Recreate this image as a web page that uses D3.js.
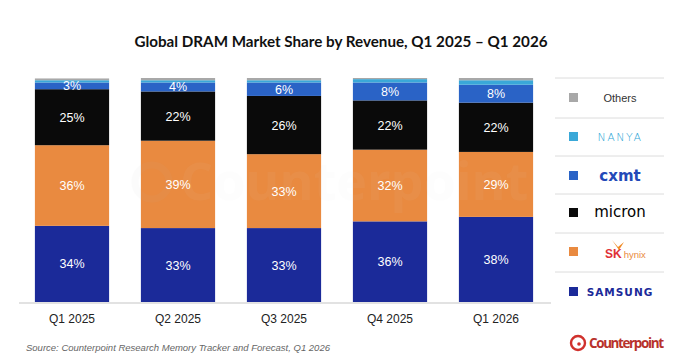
<!DOCTYPE html>
<html>
<head>
<meta charset="utf-8">
<script src="https://cdn.jsdelivr.net/npm/d3@7"></script>
<style>
  html, body { margin: 0; padding: 0; background: #fff; }
  svg { display: block; }
</style>
</head>
<body>
<svg id="chart" width="680" height="361"></svg>
<script>
// Quarters on the x axis
const quarters = ['Q1 2025', 'Q2 2025', 'Q3 2025', 'Q4 2025', 'Q1 2026'];

// Revenue share (%) per vendor, bottom to top of the stack
const samsung = [34, 33, 33, 36, 38];
const skHynix = [36, 39, 33, 32, 29];
const micron  = [25, 22, 26, 22, 22];
const cxmt    = [3, 4, 6, 8, 8];
const nanya   = [1, 1, 1, 1.5, 2];
const others  = [0.8, 1, 1, 0.5, 1];

// Which series get a value label inside the bar
const labelled = ['samsung', 'skHynix', 'micron', 'cxmt'];

const series = [
    { key: 'samsung', values: samsung, color: '#1b2a99' },
    { key: 'skHynix', values: skHynix, color: '#e98a40' },
    { key: 'micron',  values: micron,  color: '#0a0a0a' },
    { key: 'cxmt',    values: cxmt,    color: '#2a63c6' },
    { key: 'nanya',   values: nanya,   color: '#3aa8d8' },
    { key: 'others',  values: others,  color: '#a8a8a8' }
];

const svg = d3.select('#chart');

// ── Title ───────────────────────────────────────────
svg.append('text')
    .attr('x', 341).attr('y', 47)
    .attr('text-anchor', 'middle')
    .style('font-family', 'Lato, "Open Sans", sans-serif')
    .style('font-weight', 700)
    .style('font-size', '15.2px')
    .attr('fill', '#111')
    .text('Global DRAM Market Share by Revenue, Q1 2025 \u2013 Q1 2026');

// ── Scales ─────────────────────────────────────────
const x = d3.scaleBand()
    .domain(quarters)
    .range([19, 549])
    .paddingInner(0.3)
    .paddingOuter(0.15);

const y = d3.scaleLinear()
    .domain([0, 100])
    .range([302, 78]);

// Stack the series
const rows = quarters.map((q, i) => {
    const r = { quarter: q };
    series.forEach(s => { r[s.key] = s.values[i]; });
    return r;
});
const stacked = d3.stack().keys(series.map(s => s.key))(rows);
const colorOf = Object.fromEntries(series.map(s => [s.key, s.color]));

// Axis baseline
svg.append('line')
    .attr('x1', 19).attr('x2', 551)
    .attr('y1', 303).attr('y2', 303)
    .attr('stroke', '#d9d9d9').attr('stroke-width', 1.5);

const layers = svg.append('g').selectAll('g')
    .data(stacked)
    .join('g')
    .attr('fill', d => colorOf[d.key]);

layers.selectAll('rect')
    .data(d => d)
    .join('rect')
    .attr('x', d => x(d.data.quarter))
    .attr('width', x.bandwidth())
    .attr('y', d => y(d[1]))
    .attr('height', d => y(d[0]) - y(d[1]));

// Faint watermark drawn over the bars, as in the source image
const wm = svg.append('g').attr('opacity', 0.05).attr('pointer-events', 'none');
wm.append('circle')
    .attr('cx', 152).attr('cy', 182).attr('r', 17)
    .attr('fill', 'none').attr('stroke', '#bbb').attr('stroke-width', 7);
wm.append('text')
    .attr('x', 180).attr('y', 200)
    .style('font-family', '"Open Sans", sans-serif')
    .style('font-weight', 700)
    .style('font-size', '52px')
    .attr('fill', '#ddd')
    .text('Counterpoint');

svg.append('g').selectAll('g')
    .data(stacked.filter(s => labelled.includes(s.key)))
    .join('g')
    .selectAll('text')
    .data(d => d.map(v => ({ v, key: d.key })))
    .join('text')
    .attr('x', d => x(d.v.data.quarter) + x.bandwidth() / 2)
    .attr('y', d => (y(d.v[0]) + y(d.v[1])) / 2 + 4.5)
    .attr('text-anchor', 'middle')
    .style('font-family', '"Liberation Sans", Arial, sans-serif')
    .style('font-size', '12.5px')
    .attr('fill', '#fff')
    .text(d => `${d.v.data[d.key]}%`);

// X axis labels
const xAxis = svg.append('g')
    .attr('transform', 'translate(0,303)')
    .call(d3.axisBottom(x).tickSize(0).tickPadding(11));
xAxis.select('.domain').remove();
xAxis.selectAll('text')
    .style('font-family', '"Liberation Sans", Arial, sans-serif')
    .style('font-size', '12px')
    .attr('fill', '#222');

// ── Legend (top to bottom) ───────────────────────────
const legendKeys = ['others', 'nanya', 'cxmt', 'micron', 'skHynix', 'samsung'];
const legendY = [98, 137, 176, 213, 252, 292];
const sepY = [78, 118, 156, 194, 233, 272];

svg.append('g').selectAll('line')
    .data(sepY)
    .join('line')
    .attr('x1', 555).attr('x2', 664)
    .attr('y1', d => d).attr('y2', d => d)
    .attr('stroke', '#dcdcdc').attr('stroke-width', 1);

const leg = svg.append('g').selectAll('g')
    .data(legendKeys)
    .join('g')
    .attr('transform', (d, i) => `translate(0,${legendY[i]})`);

leg.append('rect')
    .attr('x', 569).attr('y', -5)
    .attr('width', 9).attr('height', 9)
    .attr('fill', d => colorOf[d]);

function brand(g, key) {
    const t = g.append('text')
        .attr('x', 620).attr('y', 4)
        .attr('text-anchor', 'middle');
    if (key === 'others') {
        t.style('font-family', '"Liberation Sans", Arial, sans-serif')
            .style('font-size', '11px').attr('fill', '#333').text('Others');
    } else if (key === 'nanya') {
        t.style('font-family', '"DejaVu Sans", sans-serif')
            .style('font-size', '11px').style('font-weight', 300)
            .style('letter-spacing', '1.5px')
            .attr('fill', '#2fa7d6').text('NANYA');
    } else if (key === 'cxmt') {
        t.attr('y', 5)
            .style('font-family', '"DejaVu Sans", sans-serif')
            .style('font-size', '15px').style('font-weight', 700)
            .attr('fill', '#2349b8').text('cxmt');
    } else if (key === 'micron') {
        t.style('font-family', '"DejaVu Sans", sans-serif')
            .style('font-size', '15px').style('font-weight', 400)
            .attr('fill', '#000').text('micron');
    } else if (key === 'skHynix') {
        t.attr('x', 605).attr('text-anchor', 'start').attr('y', 6);
        t.append('tspan')
            .style('font-family', '"Liberation Sans", Arial, sans-serif')
            .style('font-size', '12px').style('font-weight', 700)
            .attr('fill', '#e03237').text('SK');
        t.append('tspan')
            .attr('dx', 2)
            .style('font-family', '"Liberation Sans", Arial, sans-serif')
            .style('font-size', '9.5px')
            .attr('fill', '#e98a40').text('hynix');
        // small butterfly mark above
        g.append('path')
            .attr('d', 'M612,-12 L618,-5 L624,-10 L619,-2 Z')
            .attr('fill', '#f08a24');
    } else if (key === 'samsung') {
        t.style('font-family', '"DejaVu Sans", sans-serif')
            .style('font-size', '10.5px').style('font-weight', 700)
            .style('letter-spacing', '1px')
            .attr('fill', '#1b2a99').text('SAMSUNG');
    }
}
leg.each(function (d) { brand(d3.select(this), d); });

// ── Source & logo ───────────────────────────────────
svg.append('text')
    .attr('x', 26).attr('y', 351)
    .style('font-family', '"Liberation Sans", Arial, sans-serif')
    .style('font-style', 'italic')
    .style('font-size', '9.5px')
    .attr('fill', '#666')
    .text('Source: Counterpoint Research Memory Tracker and Forecast, Q1 2026');

const logo = svg.append('g');
logo.append('circle')
    .attr('cx', 578).attr('cy', 343).attr('r', 7)
    .attr('fill', 'none').attr('stroke', '#d0312d').attr('stroke-width', 2.4);
logo.append('circle')
    .attr('cx', 579).attr('cy', 344).attr('r', 1.8)
    .attr('fill', '#d0312d');
logo.append('text')
    .attr('x', 589).attr('y', 347.5)
    .style('font-family', '"Open Sans", sans-serif')
    .style('font-weight', 700)
    .style('font-size', '13.5px')
    .attr('textLength', 75)
    .attr('fill', '#b8322b')
    .text('Counterpoint');
</script>
</body>
</html>
